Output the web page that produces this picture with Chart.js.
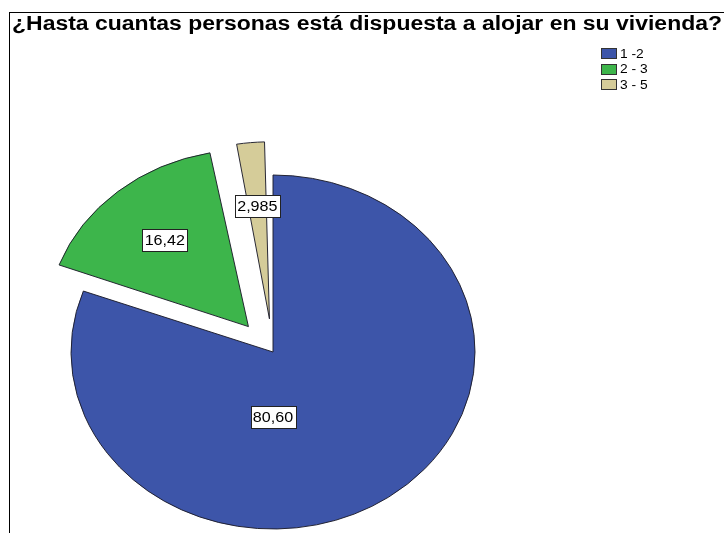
<!DOCTYPE html>
<html>
<head>
<meta charset="utf-8">
<script src="https://cdn.jsdelivr.net/npm/chart.js@4.4.0/dist/chart.umd.min.js"></script>
<style>
html, body { margin: 0; padding: 0; background: #fff; }
#lienzo { position: relative; width: 724px; height: 533px; overflow: hidden; font-family: "Liberation Sans", Arial, sans-serif; }
#marco { position: absolute; left: 9px; top: 12px; width: 730px; height: 540px; border-left: 1px solid #000; border-top: 1px solid #000; }
#titulo { position: absolute; left: 12px; top: 12px; font-weight: bold; font-size: 20px; white-space: nowrap; color: #000; transform-origin: 0 0; }
#leyenda { position: absolute; left: 601px; top: 46px; font-size: 12px; color: #000; }
#leyenda div { height: 15.5px; display: flex; align-items: center; }
#leyenda span.caja { width: 14px; height: 9px; border: 1px solid #333; margin-right: 3px; display: inline-block; }
#leyenda span.txt { display: inline-block; transform: scaleX(1.15); transform-origin: 0 50%; }
#grafico { position: absolute; left: 0; top: 0; width: 724px; height: 533px; }
</style>
</head>
<body>
<div id="lienzo">
  <div id="grafico"><canvas id="torta"></canvas></div>
  <div id="marco"></div>
  <div id="titulo">¿Hasta cuantas personas está dispuesta a alojar en su vivienda?</div>
  <div id="leyenda"></div>
</div>
<script>
const categorias = ['1 -2', '2 - 3', '3 - 5'];
const porcentajes = [80.60, 16.42, 2.985];
const etiquetasValor = ['80,60', '16,42', '2,985'];

const colores = ['#3d55a9', '#3db54b', '#d5cc99'];
const separacion = [0, 152, 152]; // el arco se desplaza offset/4
const RADIO = 202;
const ESCALA_Y = 177 / 202; // el pastel original es eliptico
const ESTIRA_X = 1.15;      // el texto del original sale ensanchado

// el titulo ocupa todo el ancho del marco
const titulo = document.getElementById('titulo');
titulo.style.transform = 'scaleX(' + (710 / titulo.offsetWidth) + ')';

// leyenda
const leyenda = document.getElementById('leyenda');
categorias.forEach((c, i) => {
    const fila = document.createElement('div');
    fila.innerHTML = '<span class="caja" style="background:' + colores[i] + '"></span><span class="txt">' + c + '</span>';
    leyenda.appendChild(fila);
});

const elipse = {
    id: 'elipse',
    afterDatasetsUpdate(chart) {
        // quitar el crecimiento del radio que chart.js agrega a los arcos separados
        chart.getDatasetMeta(0).data.forEach(arc => {
            const off = (arc.options.offset || 0) / 4;
            const fix = 1 - Math.sin(Math.min(Math.PI, arc.circumference));
            arc.outerRadius = RADIO - off * fix;
        });
    },
    beforeDatasetsDraw(chart) {
        const a = chart.getDatasetMeta(0).data[0];
        const ctx = chart.ctx;
        ctx.save();
        ctx.translate(a.x, a.y);
        ctx.scale(1, ESCALA_Y);
        ctx.translate(-a.x, -a.y);
    },
    afterDatasetsDraw(chart) {
        const ctx = chart.ctx;
        ctx.restore();
        ctx.save();
        ctx.font = '14px "Liberation Sans", Arial, sans-serif';
        ctx.textAlign = 'center';
        ctx.textBaseline = 'middle';
        chart.getDatasetMeta(0).data.forEach((arc, i) => {
            const medio = (arc.startAngle + arc.endAngle) / 2;
            const off = (arc.options.offset || 0) / 4;
            let ang = medio, dist = 0.64 * RADIO;
            if (arc.circumference > Math.PI) { ang = Math.PI / 2; dist = 0.37 * RADIO; }
            const x = arc.x + Math.cos(medio) * off + Math.cos(ang) * dist;
            const y = arc.y + (Math.sin(medio) * off + Math.sin(ang) * dist) * ESCALA_Y;
            const txt = etiquetasValor[i];
            const w = Math.round(ctx.measureText(txt).width * ESTIRA_X + 5);
            const h = 22;
            const bx = Math.round(x - w / 2) + 0.5, by = Math.round(y - h / 2) + 0.5;
            ctx.fillStyle = '#fff';
            ctx.fillRect(bx, by, w, h);
            ctx.strokeStyle = '#222';
            ctx.lineWidth = 1;
            ctx.strokeRect(bx, by, w, h);
            ctx.save();
            ctx.translate(x, y + 1);
            ctx.scale(ESTIRA_X, 1);
            ctx.fillStyle = '#000';
            ctx.fillText(txt, 0, 0);
            ctx.restore();
        });
        ctx.restore();
    }
};

new Chart(document.getElementById('torta').getContext('2d'), {
    type: 'pie',
    data: {
        labels: categorias,
        datasets: [{
            data: porcentajes,
            backgroundColor: colores,
            borderColor: '#1c1c2a',
            borderWidth: 1,
            offset: separacion,
            hoverOffset: 0
        }]
    },
    options: {
        responsive: true,
        maintainAspectRatio: false,
        animation: false,
        events: [],
        radius: RADIO,
        layout: { padding: { left: 0, right: 178, top: 171, bottom: 0 } },
        plugins: {
            legend: { display: false },
            title: { display: false },
            tooltip: { enabled: false }
        }
    },
    plugins: [elipse]
});
</script>
</body>
</html>
